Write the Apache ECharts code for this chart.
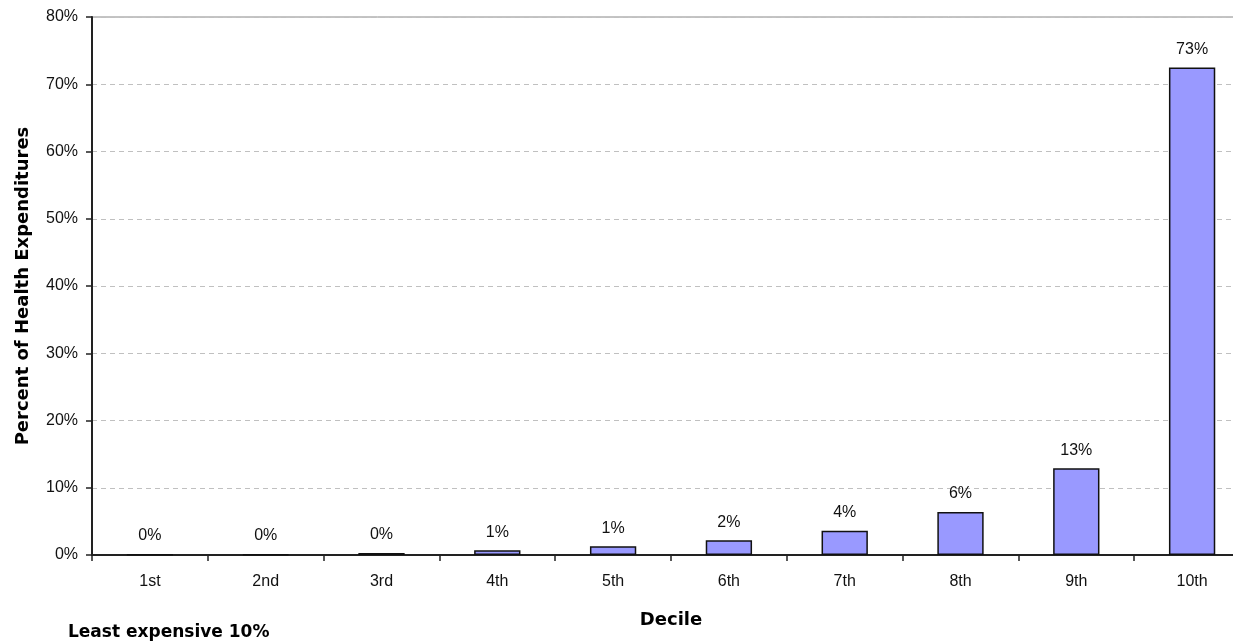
<!DOCTYPE html>
<html><head><meta charset="utf-8">
<script src="https://cdn.jsdelivr.net/npm/echarts@6/dist/echarts.min.js"></script>
<style>html,body{margin:0;padding:0;background:#fff}#c{width:1233px;height:643px}</style>
</head><body><div id="c"></div>
<script>
const categories = ['1st','2nd','3rd','4th','5th','6th','7th','8th','9th','10th'];
const values = [0.05, 0.1, 0.3, 0.7, 1.3, 2.2, 3.6, 6.4, 12.9, 72.5];
const barLabels = ['0%','0%','0%','1%','1%','2%','4%','6%','13%','73%'];
const yTicks = [0,10,20,30,40,50,60,70,80];
const font = '"Liberation Sans", Arial, sans-serif';
const boldFont = '"DejaVu Sans", sans-serif';
const chart = echarts.init(document.getElementById('c'));
chart.setOption({
  animation:false,
  grid:{left:92, top:17, width:1158, height:538, outerBoundsMode:'none', containLabel:false,
    show:true, borderColor:'#888', borderWidth:1, backgroundColor:'transparent'},
  xAxis:{type:'category', data:categories, boundaryGap:true,
    name:'Decile', nameLocation:'middle', nameGap:56,
    nameTextStyle:{fontFamily:boldFont, fontWeight:'bold', fontSize:18, color:'#000'},
    axisLine:{lineStyle:{color:'#222', width:2}},
    axisTick:{show:true, alignWithLabel:false, length:6, lineStyle:{color:'#222', width:1.5}},
    axisLabel:{fontFamily:font, fontSize:16, color:'#111', margin:19},
    splitLine:{show:false}},
  yAxis:{type:'value', min:0, max:80, interval:10,
    name:'Percent of Health Expenditures', nameLocation:'middle', nameGap:60,
    nameTextStyle:{fontFamily:boldFont, fontWeight:'bold', fontSize:18, color:'#000'},
    axisLine:{show:true, lineStyle:{color:'#222', width:2}},
    axisTick:{show:true, length:6, lineStyle:{color:'#222', width:1.5}},
    axisLabel:{fontFamily:font, fontSize:16, color:'#111', margin:14,
      formatter:function(v){return yTicks.indexOf(v)>=0 ? v+'%' : '';}},
    splitLine:{show:true, lineStyle:{color:'#c0c0c0', type:[5,4], width:1}}},
  series:[{type:'bar', data:values, barWidth:'40%',
    itemStyle:{color:'#9999FF', borderColor:'#111', borderWidth:1.5},
    label:{show:true, position:'top', distance:10, fontFamily:font, fontSize:16, color:'#111',
      formatter:function(p){return barLabels[p.dataIndex];}}}],
  graphic:[{type:'text', left:68, top:624, style:{text:'Least expensive 10%', font:'bold 17px "DejaVu Sans", sans-serif', fill:'#000'}}]
});
</script></body></html>
